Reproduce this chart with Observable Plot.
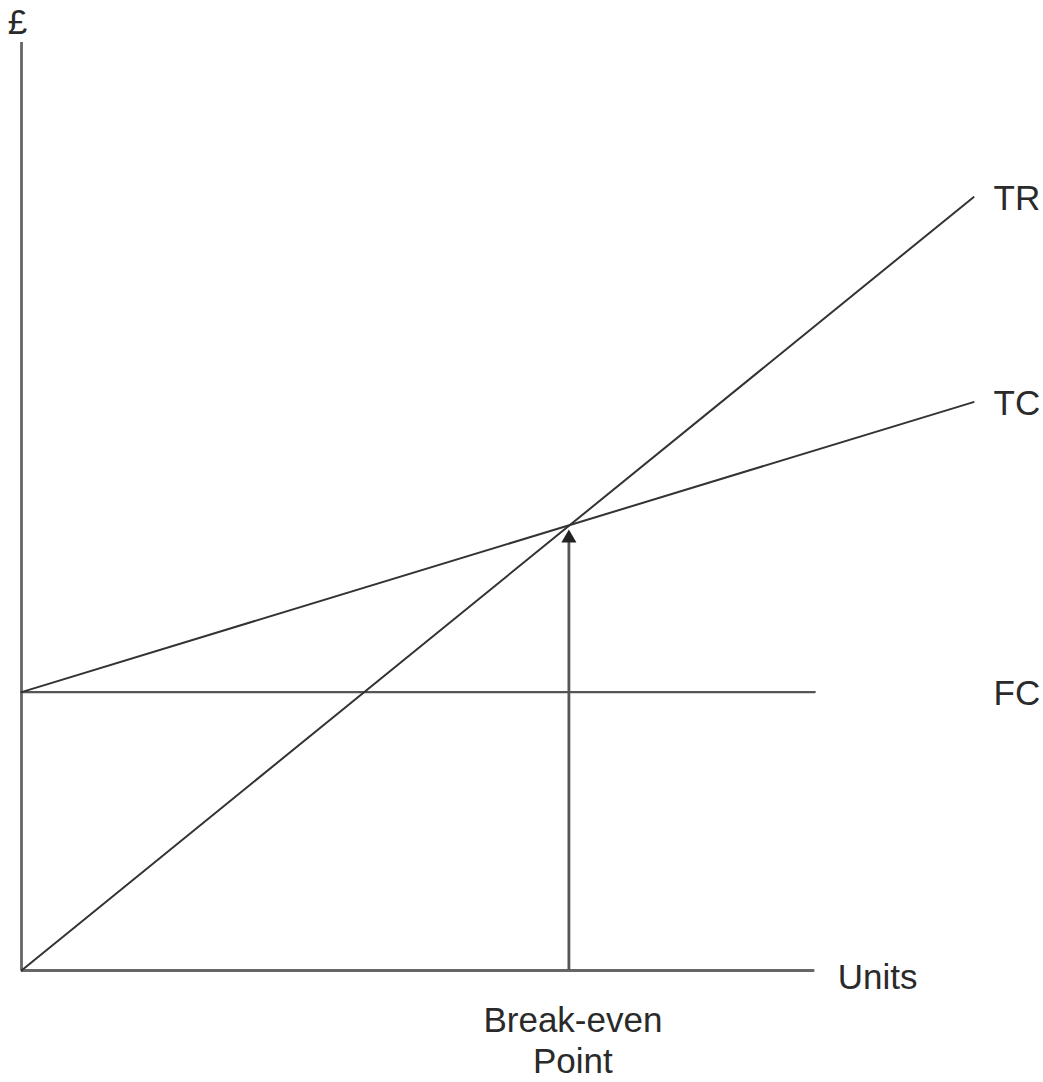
<!DOCTYPE html>
<html>
<head>
<meta charset="utf-8">
<script src="https://cdn.jsdelivr.net/npm/d3@7"></script>
<script src="https://cdn.jsdelivr.net/npm/@observablehq/plot@0.6"></script>
<style>
  body { margin: 0; background: #fff; }
  svg { display: block; }
</style>
</head>
<body>
<div id="chart"></div>
<script>
// Units of output (x) and £ (y)
const lineUnits = [0, 120];          // TR and TC run across the chart
const trValues = [0, 100];           // total revenue
const tcValues = [36, 73.5];         // total cost
const fcUnits = [0, 100];            // fixed cost line extent
const fcValue = 36;                  // fixed cost
const axisUnitsMax = 100;
const axisPoundsMax = 120;
const breakEvenUnits = 69;
const breakEvenValue = 57.4;
const lineLabels = ["TR", "TC", "FC"];
const lineLabelValues = [100, 73.5, 36];

const tr = lineUnits.map((u, i) => ({u, v: trValues[i]}));
const tc = lineUnits.map((u, i) => ({u, v: tcValues[i]}));
const fc = fcUnits.map(u => ({u, v: fcValue}));
const labels = lineLabels.map((t, i) => ({t, u: lineUnits[1], v: lineLabelValues[i]}));
const be = [{u: breakEvenUnits, v: breakEvenValue}];

const font = "Liberation Sans, Arial, Helvetica, sans-serif";

const chart = Plot.plot({
  width: 1043,
  height: 1082,
  marginLeft: 21,
  marginRight: 70,
  marginTop: 42,
  marginBottom: 112,
  x: {domain: [0, 120], axis: null},
  y: {domain: [0, 120], axis: null},
  style: {fontFamily: font, background: "#fff", overflow: "visible"},
  marks: [
    // axes
    Plot.ruleX([0], {y1: 0, y2: axisPoundsMax, stroke: "#666", strokeWidth: 2.8}),
    Plot.ruleY([0], {x1: 0, x2: axisUnitsMax, stroke: "#666", strokeWidth: 2.8}),
    // lines
    Plot.line(fc, {x: "u", y: "v", stroke: "#555", strokeWidth: 2.2}),
    Plot.line(tc, {x: "u", y: "v", stroke: "#333", strokeWidth: 2}),
    Plot.line(tr, {x: "u", y: "v", stroke: "#333", strokeWidth: 2}),
    // break-even arrow
    Plot.ruleX(be, {x: "u", y1: 0, y2: d => d.v - 1, stroke: "#555", strokeWidth: 2.8}),
    Plot.dot(be, {x: "u", y: "v", symbol: "triangle", r: 5.6, fill: "#222", stroke: "none", dy: 11.5}),
    // line labels
    Plot.text(labels, {x: "u", y: "v", text: "t", textAnchor: "start", dx: 20, dy: 2, fontSize: 35, fill: "#2a2a2a"}),
    // axis labels
    Plot.text(["Units"], {x: axisUnitsMax, y: 0, textAnchor: "start", dx: 23, dy: 7, fontSize: 35, fill: "#2a2a2a"}),
    Plot.text(["£"], {x: 0, y: axisPoundsMax, textAnchor: "middle", lineAnchor: "bottom", dx: -4, dy: -9, fontSize: 35, fill: "#2a2a2a"}),
    Plot.text(be, {x: "u", y: 0, text: () => "Break-even\nPoint", textAnchor: "middle", lineAnchor: "top", lineHeight: 1.17, dx: 4, dy: 32, fontSize: 35, fill: "#2a2a2a"})
  ]
});
document.getElementById("chart").append(chart);
</script>
</body>
</html>
